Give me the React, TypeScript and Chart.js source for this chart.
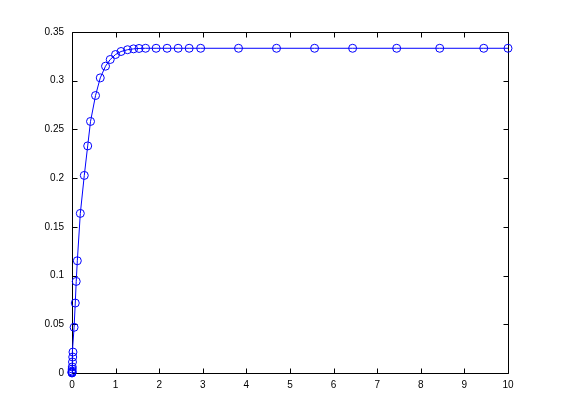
import { useEffect, useRef } from 'react';
import { Chart, registerables } from 'chart.js';

Chart.register(...registerables);

const xValues = [
  0, 0.0005, 0.001, 0.002, 0.004, 0.0063, 0.0115, 0.0167, 0.022,
  0.048, 0.075, 0.097, 0.122, 0.191, 0.282, 0.36, 0.425, 0.54, 0.648,
  0.769, 0.877, 0.999, 1.125, 1.274, 1.412, 1.538, 1.688, 1.929, 2.181,
  2.434, 2.687, 2.951, 3.819, 4.691, 5.564, 6.436, 7.447, 8.434, 9.444, 10,
];
const yValues = [
  0, 0.0005, 0.001, 0.002, 0.004, 0.0062, 0.0113, 0.0164, 0.0215,
  0.0469, 0.0718, 0.094, 0.1152, 0.1638, 0.2028, 0.2331, 0.2582, 0.2848, 0.3029,
  0.3149, 0.3218, 0.3269, 0.33, 0.3318, 0.3327, 0.3331, 0.3333, 0.3333, 0.3333,
  0.3333, 0.3333, 0.3333, 0.3333, 0.3333, 0.3333, 0.3333, 0.3333, 0.3333, 0.3333, 0.3333,
];
const xTicks = [0, 1, 2, 3, 4, 5, 6, 7, 8, 9, 10];
const yTicks = [0, 0.05, 0.1, 0.15, 0.2, 0.25, 0.3, 0.35];

const boxPlugin = {
  id: 'matlabBox',
  beforeDatasetsDraw(chart: any) {
    const { ctx, chartArea } = chart;
    const { left, right, top, bottom } = chartArea;
    const xs = chart.scales.x;
    const ys = chart.scales.y;
    ctx.save();
    ctx.strokeStyle = '#000';
    ctx.lineWidth = 1;
    ctx.beginPath();
    const L = Math.round(left) + 0.5;
    const R = Math.round(right) + 0.5;
    const T = Math.round(top) + 0.5;
    const B = Math.round(bottom) + 0.5;
    ctx.rect(L, T, R - L, B - T);
    const len = 5;
    xTicks.forEach((v) => {
      const px = Math.round(xs.getPixelForValue(v)) + 0.5;
      ctx.moveTo(px, B);
      ctx.lineTo(px, B - len);
      ctx.moveTo(px, T);
      ctx.lineTo(px, T + len);
    });
    yTicks.forEach((v) => {
      const py = Math.round(ys.getPixelForValue(v)) + 0.5;
      ctx.moveTo(L, py);
      ctx.lineTo(L + len, py);
      ctx.moveTo(R, py);
      ctx.lineTo(R - len, py);
    });
    ctx.stroke();
    ctx.restore();
  },
};

export default function App() {
  const ref = useRef<HTMLCanvasElement | null>(null);
  useEffect(() => {
    if (!ref.current) return;
    const data = xValues.map((x, i) => ({ x, y: yValues[i] }));
    const chart = new Chart(ref.current, {
      type: 'scatter',
      data: {
        datasets: [
          {
            data,
            showLine: true,
            borderColor: '#0000ff',
            borderWidth: 1,
            backgroundColor: 'rgba(0,0,0,0)',
            pointStyle: 'circle',
            pointRadius: 4,
            pointBorderWidth: 1,
            pointBorderColor: '#0000ff',
            pointBackgroundColor: 'rgba(0,0,0,0)',
            clip: false as any,
          },
        ],
      },
      options: {
        animation: false,
        responsive: false,
        events: [],
        layout: { padding: { left: 0, top: 32, right: 53, bottom: 0 } },
        plugins: { legend: { display: false }, tooltip: { enabled: false } },
        scales: {
          x: {
            type: 'linear',
            min: 0,
            max: 10,
            border: { display: false },
            grid: { display: false, drawTicks: false },
            afterFit: (s: any) => { s.height = 47; },
            afterBuildTicks: (s: any) => { s.ticks = xTicks.map((v) => ({ value: v })); },
            ticks: {
              padding: 6,
              color: '#000',
              font: { family: 'Liberation Sans', size: 10 },
              maxRotation: 0,
              autoSkip: false,
              callback: (v: any) => String(v),
            },
          },
          y: {
            type: 'linear',
            min: 0,
            max: 0.35,
            border: { display: false },
            grid: { display: false, drawTicks: false },
            afterFit: (s: any) => { s.width = 72; },
            afterBuildTicks: (s: any) => { s.ticks = yTicks.map((v) => ({ value: v })); },
            ticks: {
              padding: 8,
              color: '#000',
              font: { family: 'Liberation Sans', size: 10 },
              autoSkip: false,
              callback: (v: any) => String(+Number(v).toFixed(2)),
            },
          },
        },
      },
      plugins: [boxPlugin],
    });
    return () => chart.destroy();
  }, []);
  return (
    <div style={{ position: 'absolute', left: 0, top: 0, width: 561, height: 420, background: '#fff' }}>
      <canvas ref={ref} width={561} height={420} style={{ width: 561, height: 420, display: 'block' }} />
    </div>
  );
}
